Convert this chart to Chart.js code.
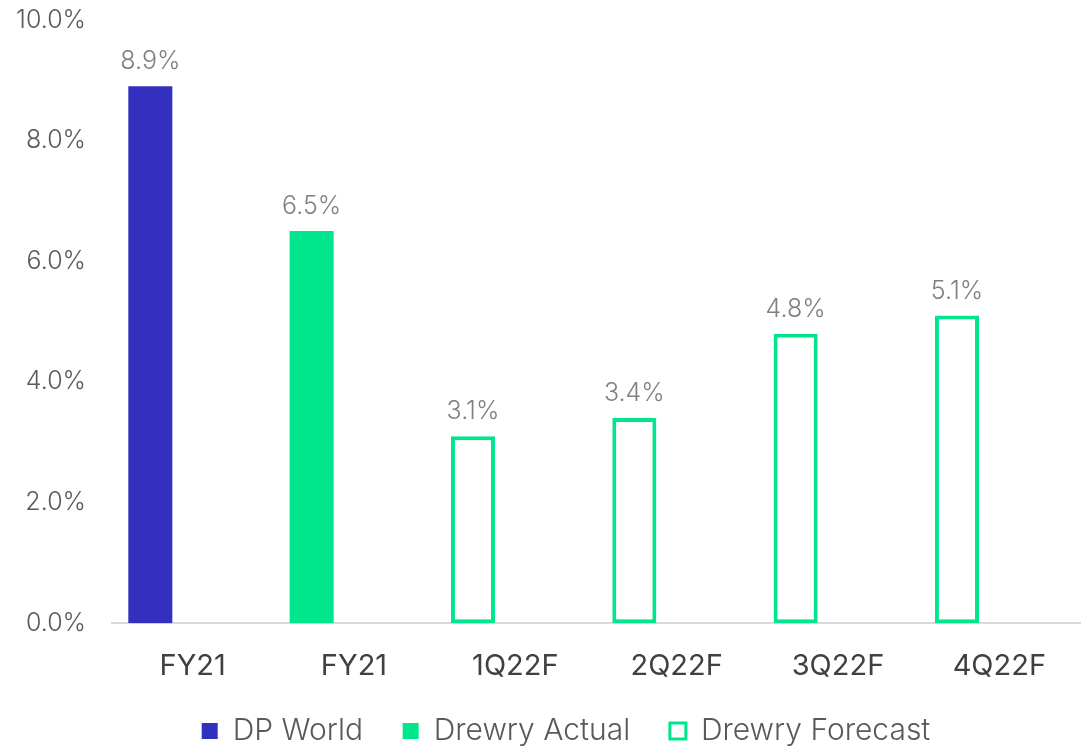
<!DOCTYPE html>
<html>
<head>
<meta charset="utf-8">
<script src="https://cdn.jsdelivr.net/npm/chart.js@4"></script>
<style>
	html, body { margin: 0; padding: 0; background: #fff; overflow: hidden; }
	/* shifted up: the y tick padding also pads the top of the chart area */
	#wrap { width: 1081px; height: 777px; margin-top: -21px; }
</style>
</head>
<body>
<div id="wrap"><canvas id="myChart"></canvas></div>
<script>
const categories = ["FY21", "FY21", "1Q22F", "2Q22F", "3Q22F", "4Q22F"]
const dpWorld = [8.9, null, null, null, null, null]
const drewryActual = [null, 6.5, null, null, null, null]
const drewryForecast = [null, null, 3.1, 3.4, 4.8, 5.1]
const yTicks = [0, 2, 4, 6, 8, 10]

const BLUE = "#3330BF"
const GREEN = "#00E68C"
const FONT = "Inter"

// draws the value above every bar
const valueLabels = {
	id: "valueLabels",
	afterDatasetsDraw(chart) {
		const ctx = chart.ctx
		ctx.save()
		ctx.font = "300 25px " + FONT
		ctx.fillStyle = "#808080"
		ctx.textAlign = "center"
		ctx.textBaseline = "bottom"
		chart.data.datasets.forEach((ds, i) => {
			if (ds.dummy) return
			const meta = chart.getDatasetMeta(i)
			meta.data.forEach((bar, j) => {
				const v = ds.data[j]
				if (v === null) return
				ctx.fillText(v.toFixed(1) + "%", bar.x, bar.y - 12)
			})
		})
		ctx.restore()
	}
}

// legend sits a bit right of the canvas centre in the original
const nudgeLegend = {
	id: "nudgeLegend",
	afterLayout(chart) {
		chart.legend.left += 20
		chart.legend.right += 20
	}
}

new Chart("myChart", {
	type: "bar",
	data: {
		labels: categories,
		datasets: [
			{ label: "DP World", data: dpWorld, backgroundColor: BLUE, borderWidth: 0, stack: "a" },
			{ label: "Drewry Actual", data: drewryActual, backgroundColor: GREEN, borderWidth: 0, stack: "a" },
			{ label: "Drewry Forecast", data: drewryForecast, backgroundColor: "#ffffff", borderColor: GREEN, borderWidth: 4, borderSkipped: false, stack: "a" },
			{ label: "pad", data: [null, null, null, null, null, null], stack: "b", dummy: true }
		]
	},
	plugins: [valueLabels, nudgeLegend],
	options: {
		responsive: true,
		maintainAspectRatio: false,
		animation: false,
		categoryPercentage: 1.05,
		barPercentage: 0.52,
		layout: { padding: { left: 12, right: 1, top: 0, bottom: 0 } },
		plugins: {
			legend: {
				position: "bottom",
				labels: {
					boxWidth: 16,
					boxHeight: 16,
					padding: 6,
					color: "#595959",
					font: { family: FONT, size: 30, weight: 300 },
					// hide the spacer dataset, widen the gap after the first two items
					filter: (item) => item.text !== "pad",
					generateLabels: (chart) => {
						const items = Chart.defaults.plugins.legend.labels.generateLabels(chart)
						items.forEach((item, i) => {
							if (i < 2) item.text += "    "
							if (i === 2) item.lineWidth = 3
						})
						return items
					}
				}
			},
			tooltip: { enabled: false }
		},
		scales: {
			x: {
				stacked: true,
				grid: { display: false, drawTicks: false },
				border: { color: "#d9d9d9", width: 2 },
				ticks: {
					color: "#404040",
					padding: 26,
					font: { family: FONT, size: 29 }
				}
			},
			y: {
				stacked: true,
				min: 0,
				max: 10,
				afterFit: (scale) => { scale.width = 100 },
				afterBuildTicks: (scale) => { scale.ticks = yTicks.map(v => ({ value: v })) },
				grid: { display: false, drawTicks: false },
				border: { display: false },
				ticks: {
					color: "#595959",
					padding: 26,
					font: { family: FONT, size: 25, weight: 300 },
					callback: (v) => v.toFixed(1) + "%"
				}
			}
		}
	}
})
</script>
</body>
</html>
